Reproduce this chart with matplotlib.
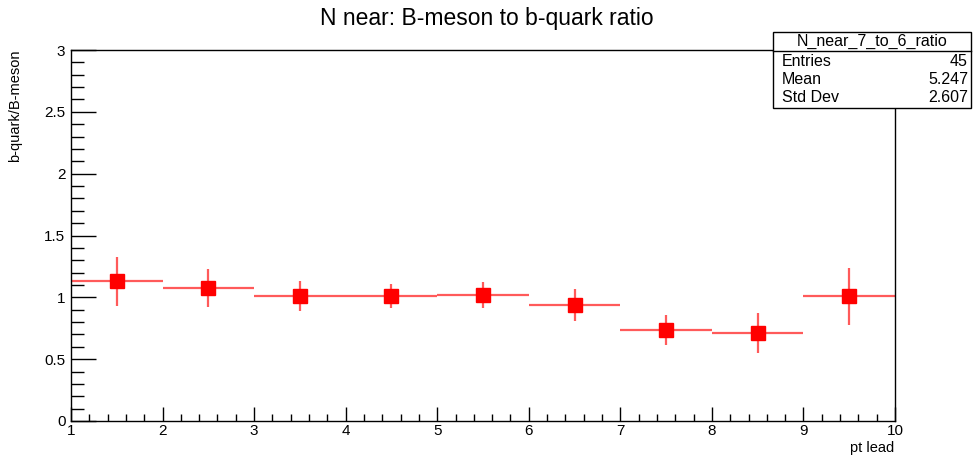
import matplotlib
matplotlib.use("Agg")
import matplotlib.pyplot as plt
from matplotlib.patches import Rectangle
from matplotlib.ticker import MultipleLocator
import numpy as np

plt.rcParams['font.family'] = ['Liberation Sans', 'DejaVu Sans']

# histogram N_near_7_to_6_ratio
bin_centers = [1.5, 2.5, 3.5, 4.5, 5.5, 6.5, 7.5, 8.5, 9.5]
ratio = [1.13, 1.075, 1.01, 1.01, 1.02, 0.94, 0.735, 0.71, 1.01]
ratio_err = [0.20, 0.155, 0.12, 0.10, 0.105, 0.13, 0.12, 0.16, 0.23]
bin_half_width = [0.5] * 9

x_ticks = [1, 2, 3, 4, 5, 6, 7, 8, 9, 10]
y_ticks = [0, 0.5, 1, 1.5, 2, 2.5, 3]
y_tick_labels = ["0", "0.5", "1", "1.5", "2", "2.5", "3"]

stat_title = "N_near_7_to_6_ratio"
stat_names = ["Entries", "Mean", "Std Dev"]
stat_values = ["45", "5.247", "2.607"]

W, H = 973, 457
fig = plt.figure(figsize=(W / 100, H / 100), dpi=100)
ax = fig.add_axes([71 / W, (H - 421) / H, 824 / W, 371 / H])

ax.errorbar(bin_centers, ratio, xerr=bin_half_width, yerr=ratio_err,
            fmt='none', ecolor='#ff5a5a', elinewidth=1.6, capsize=0)
ax.plot(bin_centers, ratio, 's', color='#ff0000', markersize=9.5)

ax.set_xticks(x_ticks)
ax.set_xticklabels([str(i) for i in x_ticks])
ax.set_yticks(y_ticks)
ax.set_yticklabels(y_tick_labels)
ax.xaxis.set_minor_locator(MultipleLocator(0.2))
ax.yaxis.set_minor_locator(MultipleLocator(0.1))
ax.set_xlim(1, 10)
ax.set_ylim(0, 3)
ax.tick_params(axis='both', which='both', direction='in', color='black',
               labelsize=11, width=1)
ax.tick_params(axis='y', which='major', length=18, pad=4)
ax.tick_params(axis='y', which='minor', length=9)
ax.tick_params(axis='x', which='major', length=10, pad=2)
ax.tick_params(axis='x', which='minor', length=5)
for s in ax.spines.values():
    s.set_linewidth(1)

fig.text(0.5, 1 - 19 / H, "N near: B-meson to b-quark ratio",
         ha='center', va='center', fontsize=16.5)
fig.text(894 / W, 1 - 448 / H, "pt lead", ha='right', va='center', fontsize=10.5)
fig.text(15 / W, 1 - 50 / H, "b-quark/B-meson", ha='center', va='top',
         rotation=90, fontsize=10.5)

# stat box
bx0, bx1, by0, by1 = 773, 971, 32, 108
box = Rectangle((bx0 / W, 1 - by1 / H), (bx1 - bx0) / W, (by1 - by0) / H,
                transform=fig.transFigure, facecolor='white',
                edgecolor='black', linewidth=1, zorder=5)
fig.patches.append(box)
fig.add_artist(plt.Line2D([bx0 / W, bx1 / W], [1 - 51 / H, 1 - 51 / H],
                          color='black', linewidth=1, zorder=6))
fig.text((bx0 + bx1) / 2 / W, 1 - 41.5 / H, stat_title, ha='center',
         va='center', fontsize=11.5, zorder=7)
for i, (n, v) in enumerate(zip(stat_names, stat_values)):
    yy = 1 - (62 + 17.5 * i) / H
    fig.text((bx0 + 9) / W, yy, n, ha='left', va='center', fontsize=11.5, zorder=7)
    fig.text((bx1 - 3) / W, yy, v, ha='right', va='center', fontsize=11.5, zorder=7)

fig.savefig("out.png", dpi=100)
